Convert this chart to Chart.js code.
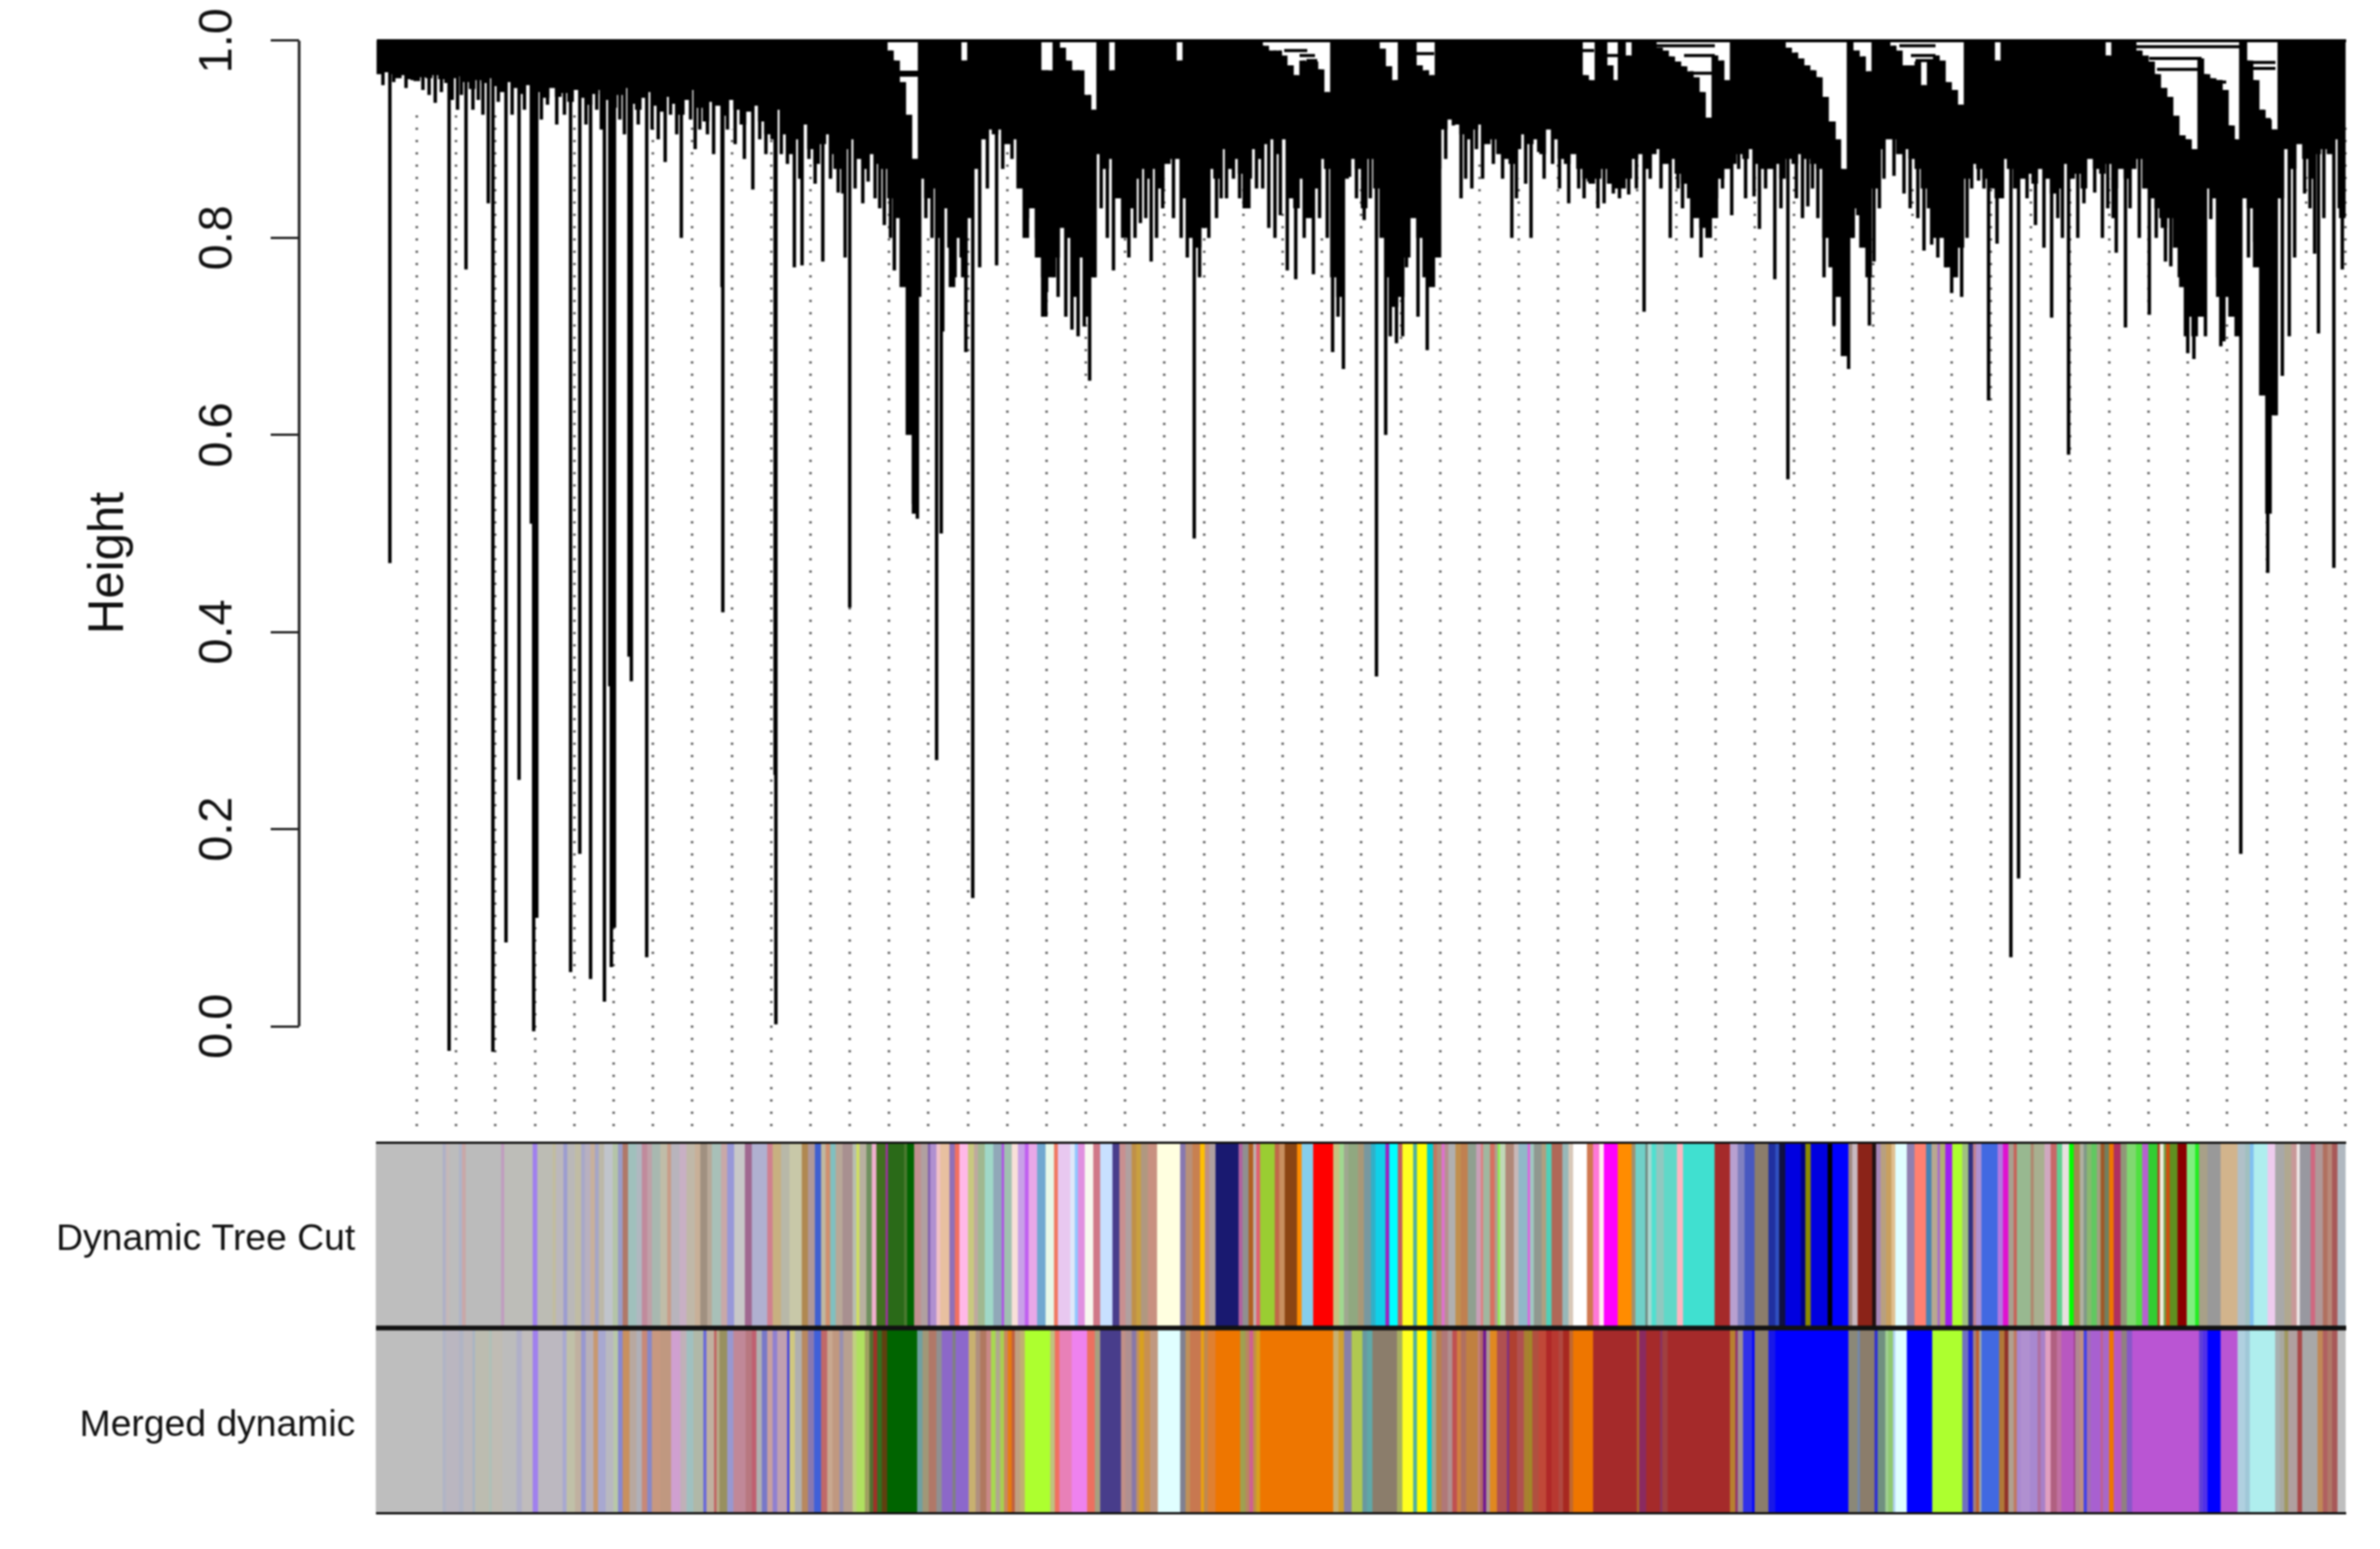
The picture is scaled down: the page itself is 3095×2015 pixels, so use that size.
<!DOCTYPE html>
<html>
<head>
<meta charset="utf-8">
<title>Gene dendrogram and module colors</title>
<script src="https://cdn.jsdelivr.net/npm/chart.js@4/dist/chart.umd.min.js"></script>
<style>
  html, body { margin: 0; background: #fff; }
  canvas { display: block; filter: blur(0.8px); }
</style>
</head>
<body>
<canvas id="treeChart" width="3095" height="2015"></canvas>
<script>
// y axis
const heightTicks = [0, 0.2, 0.4, 0.6, 0.8, 1.0];
const stripLabels = ['Dynamic Tree Cut', 'Merged dynamic'];

// leaf positions of the guide lines and the height each one starts at
const guideLeaf = [52,103,154,206,257,308,359,410,462,513,564,615,666,717,769,820,871,922,973,1024,1076,1127,1178,1229,1280,1332,1383,1434,1485,1536,1587,1639,1690,1741,1792,1843,1895,1946,1997,2048,2099,2151,2202,2253,2304,2355,2406,2458,2509,2560];
const guideTop = [.93,.93,.93,.93,.93,.92,.92,.92,.91,.90,.88,.87,.84,.80,.80,.90,.77,.74,.85,.86,.84,.85,.83,.80,.86,.76,.78,.88,.86,.88,.86,.88,.88,.85,.87,.87,.78,.80,.85,.78,.86,.86,.87,.86,.82,.70,.72,.60,.87,.92];

// lower edge of the dense part of the tree, one value per 8 leaves
const massLow = [
  .966,.968,.966,.962,.965,.961,.959,.963,.962,.965,.961,.957,.962,
  .964,.958,.951,.960,.957,.962,.954,.948,.958,.952,.946,.955,.950,
  .948,.942,.952,.943,.947,.938,.950,.942,.935,.946,.950,.940,.932,
  .945,.952,.936,.930,.942,.948,.934,.928,.943,.936,.925,.940,.950,
  .932,.918,.938,.934,.924,.940,.930,.915,.928,.934,.918,.905,
  .900,.930,.905,.885,.900,.915,.890,.875,.895,.905,.885,.870,.890,.900,.880,.870,.885,.875,.870,
  .840,.820,.750,.600,.520,
  .860,.840,.850,.800,.830,.750,.800,.760,.820,.870,.900,.910,
  .905,.910,.895,.900,.850,.800,.830,.780,.720,.760,.780,
  .810,.800,.740,.780,.720,.760,
  .885,.870,.880,.840,.800,.830,.860,.870,
  .860,.870,.850,.875,.880,.880,.840,.800,.790,.810,.870,.860,.890,.870,.880,.865,
  .830,.890,.880,.895,.900,.885,.900,
  .840,.830,.860,.820,.850,.880,.870,
  .760,.740,.860,.880,.870,.830,
  .880,.850,.800,.760,.730,.740,.780,.820,
  .800,.760,.750,.780,
  .910,.920,.915,.905,.900,.910,.915,.895,.900,.885,.880,.875,.890,.905,.895,.900,.885,.910,.900,.880,.875,.885,.870,
  .860,.855,.860,.870,.855,.850,.850,.860,
  .880,.885,.870,.885,.890,.875,.880,.865,.855,.840,.820,.810,.800,.820,.860,.870,
  .875,.885,.880,.890,.875,.870,.870,.875,.860,
  .880,.875,.885,.880,.875,.870,.800,.770,.740,.680,
  .800,.830,.790,.760,.850,.890,.900,
  .900,.885,.890,.880,.870,.850,.830,.800,.800,.770,.760,.790,
  .860,.875,.870,.860,.850,.840,
  .880,.870,.850,.860,.865,.855,.870,.860,.845,.850,.875,.860,.865,.850,.880,.870,.865,.875,.850,.870,.860,.870,
  .880,.850,.840,.830,.810,.820,.790,.750,.720,.700,
  .720,.850,.840,.760,.740,.720,.700,
  .840,.830,.770,.640,.520,.620,
  .840,.890,.870,.895,.880,.860,.885,.890,.885,.900,.820
];

// columns of the dense part that start below the top of the tree
const wedgeCol = [83,84,85,86,87,95,108,109,111,112,113,114,115,116,119,130,144,145,146,147,148,149,150,151,152,153,154,163,164,165,169,170,171,196,197,200,201,203,208,209,210,211,212,213,214,215,216,217,218,219,229,230,231,232,233,234,235,236,237,238,240,241,242,246,247,248,249,250,251,252,253,254,255,256,257,263,281,286,287,288,289,290,291,292,293,294,295,296,297,298,299,300,301,302,304,305,306,307,308];
const wedgeTop = [.99,.98,.958,.925,.88,.98,.97,.97,.993,.98,.97,.97,.945,.93,.97,.98,.995,.99,.99,.985,.975,.965,.98,.979,.979,.971,.948,.992,.974,.96,.975,.97,.965,.965,.96,.975,.96,.985,.993,.99,.984,.979,.974,.969,.963,.948,.922,.985,.98,.96,.993,.988,.982,.975,.97,.963,.943,.918,.90,.87,.99,.984,.969,.995,.99,.975,.975,.979,.955,.98,.985,.98,.958,.95,.935,.98,.985,.99,.985,.979,.966,.952,.943,.924,.904,.90,.89,.982,.966,.962,.96,.95,.914,.90,.98,.96,.93,.92,.91];

// single long branches
const spikeLeaf = [17,76,94,105,116,125,145,151,168,185,201,204,208,252,264,278,296,303,305,309,328,331,351,375,396,420,449,450,489,518,519,543,553,580,600,609,615,639,648,660,673,698,703,706,728,734,736,766,775,806,871,881,904,927,933,958,993,1007,1046,1063,1092,1105,1128,1144,1175,1184,1195,1218,1243,1257,1265,1284,1300,1312,1326,1339,1366,1373,1400,1410,1430,1476,1501,1511,1529,1563,1576,1608,1628,1648,1682,1698,1733,1762,1771,1791,1798,1818,1835,1861,1867,1895,1914,1926,1941,1947,1954,1973,1986,2012,2022,2048,2061,2074,2083,2096,2107,2125,2135,2157,2168,2178,2200,2220,2234,2251,2262,2274,2305,2326,2333,2352,2355,2363,2385,2398,2402,2424,2442,2459,2469,2487,2507,2520,2525,2545,2556];
const spikeLow = [.47,.937,-.025,.93,.768,.93,.835,-.026,.085,.25,.51,-.005,.11,.055,.175,.048,.025,.345,.06,.10,.375,.35,.07,.877,.80,.91,.75,.42,.849,.255,.002,.77,.772,.776,.846,.78,.425,.857,.84,.813,.767,.53,.515,.74,.27,.50,.705,.684,.13,.772,.745,.76,.707,.655,.76,.767,.815,.776,.80,.495,.82,.84,.83,.85,.823,.767,.758,.763,.684,.667,.862,.818,.355,.60,.693,.77,.686,.754,.914,.84,.89,.80,.80,.887,.875,.85,.857,.845,.844,.725,.80,.83,.803,.823,.87,.842,.809,.758,.555,.832,.85,.711,.667,.823,.711,.776,.83,.863,.845,.787,.793,.744,.74,.85,.858,.635,.794,.07,.15,.813,.79,.719,.58,.835,.846,.83,.785,.709,.722,.776,.771,.70,.683,.677,.819,.69,.695,.175,.796,.46,.62,.70,.845,.784,.703,.465,.768];

// short branch tips that hang just under the dense part
const tipLeaf = [8,22,38,46,60,68,84,98,110,132,138,158,176,192,214,222,234,244,272,286,292,316,322,340,358,366,382,390,408,414,430,438,456,466,478,498,506,526,534,550,562,570,590,596,606,622,632,654,668,714,722,744,752,760,784,794,814,826,836,846,858,866,886,896,912,920,942,950,966,978,986,1000,1014,1022,1036,1054,1070,1082,1098,1114,1122,1136,1152,1160,1168,1190,1206,1226,1236,1250,1274,1292,1318,1334,1354,1382,1390,1416,1424,1438,1452,1464,1482,1494,1518,1538,1550,1570,1588,1596,1616,1638,1656,1670,1692,1710,1722,1742,1750,1780,1806,1826,1846,1854,1874,1882,1904,1920,1934,1960,1994,2004,2030,2040,2056,2068,2090,2114,2146,2186,2192,2212,2244,2258,2280,2292,2314,2320,2344,2370,2378,2394,2410,2416,2434,2452,2464,2478,2494,2514,2532,2552];
const tipLow = [.955,.958,.952,.96,.95,.945,.948,.94,.945,.94,.925,.938,.925,.93,.92,.935,.915,.925,.915,.93,.91,.92,.905,.915,.91,.90,.925,.905,.92,.89,.905,.885,.91,.895,.88,.90,.885,.885,.875,.86,.88,.855,.86,.87,.845,.85,.835,.83,.80,.82,.80,.79,.76,.78,.77,.85,.87,.88,.87,.82,.80,.76,.74,.72,.70,.71,.83,.80,.84,.78,.80,.82,.80,.83,.82,.78,.76,.80,.84,.86,.84,.86,.85,.81,.80,.84,.80,.82,.80,.72,.84,.84,.70,.70,.72,.87,.88,.86,.85,.86,.875,.86,.84,.855,.86,.85,.835,.84,.83,.835,.84,.85,.86,.85,.85,.80,.78,.84,.85,.84,.85,.83,.84,.82,.82,.76,.78,.80,.84,.86,.83,.82,.78,.77,.80,.80,.85,.84,.84,.82,.80,.80,.80,.82,.83,.80,.80,.82,.76,.72,.70,.74,.80,.76,.78,.74,.72,.66,.78,.83,.82,.83];

// horizontal merges visible in the white wedges
const linkFrom = [0,679,679,1180,1200,1209,1352,1563,1595,1660,1700,1710,1980,1995,2001,2286,2305,2315,2390,2436,2440,2446];
const linkTo = [2561,705,705,1210,1220,1223,1375,1583,1615,1740,1740,1738,2027,2027,2024,2423,2373,2370,2405,2469,2469,2463];
const linkHeight = [1,.968,.965,.99,.985,.98,.987,.99,.985,.995,.985,.967,.995,.985,.98,.994,.982,.971,.958,.978,.972,.92];

// module colour strips: the leaf where each block ends, and its colour
const cutEnd = [
  86,90,95,107,111,116,162,166,203,209,229,233,243,248,258,266,271,278,284,289,
  296,307,314,320,327,338,345,352,358,369,378,383,394,403,414,421,430,436,448,456,
  465,479,488,508,515,526,537,553,561,570,578,584,590,597,606,619,624,628,637,644,
  650,662,665,686,690,699,708,717,720,728,733,745,752,758,769,777,782,791,802,813,
  816,826,834,843,848,859,870,881,886,902,908,912,921,932,941,957,966,974,982,988,
  994,1003,1015,1045,1052,1061,1071,1077,1083,1091,1121,1126,1134,1140,1144,1149,1168,1174,1181,1197,
  1203,1218,1244,1252,1258,1264,1276,1284,1293,1299,1312,1317,1328,1334,1348,1353,1366,1374,1379,1385,
  1389,1394,1403,1410,1419,1430,1436,1439,1448,1454,1458,1461,1468,1479,1485,1497,1500,1505,1515,1521,
  1528,1542,1550,1556,1574,1582,1590,1596,1614,1632,1637,1650,1653,1658,1664,1674,1691,1699,1740,1760,
  1770,1779,1792,1810,1819,1824,1832,1852,1858,1865,1887,1893,1914,1919,1926,1945,1950,1956,1963,1970,
  1975,1990,2000,2015,2022,2030,2033,2040,2049,2062,2070,2076,2080,2087,2108,2115,2122,2129,2133,2151,
  2155,2169,2177,2185,2192,2201,2207,2215,2220,2224,2230,2237,2242,2247,2253,2259,2268,2276,2288,2296,
  2304,2316,2319,2324,2327,2332,2342,2354,2365,2370,2381,2398,2420,2430,2436,2441,2459,2469,2481,2490,
  2497,2501,2515,2521,2531,2537,2543,2550,2560
];
const cutColor = [
  '#bebebe','#aeb0c6','#c4b8b8','#bcbcbc','#aeb4c8','#c8a8a8','#bbbbbb','#c09cc0','#bdbdb8','#a080ee','#bcbcb4','#c2bc9e','#bcb8bc','#9c9cd0','#bab8b8','#c0bca4','#a8a8c8','#b8b0c0','#c8b09c','#a6a6c6',
  '#bcb8a8','#c0c4cc','#b4c4a8','#9a9cc8','#b07868','#a0c0bc','#b0b8c0','#c08a9c','#c0a0a8','#a8b8b0','#c0bca8','#c89c88','#b8b4bc','#c8b0c4','#c0b8a8','#c8b098','#a09080','#b8a898','#a8c0b8','#c8a8a8',
  '#9898d8','#c8c8c8','#a06890','#b0b0d0','#d08090','#c8b080','#b8b8a8','#c8c8a8','#b08850','#b09898','#4060d0','#c0b8a0','#d09070','#80c0c0','#b8a898','#a89090','#b8c0b0','#d0e060','#b8b0a0','#709060',
  '#f0b0d0','#407020','#a030a0','#2a6a18','#4a7a30','#006400','#c09090','#b0a0a0','#8060b0','#b090d0','#f0c0c8','#e8c0a0','#9070b8','#f07060','#ffb8e8','#c8c880','#c0a8a0','#a0b890','#a0d8c8','#90a8b8',
  '#b050e8','#a0c0b0','#f8e0d8','#c8a0e8','#c060f0','#e8a8e8','#70a8d0','#e8f8e8','#f07860','#e8c8f0','#e0e8f8','#90c8ff','#e090e0','#f8f8f0','#d07888','#c8e0ff','#483d8b','#c89090','#b0a0a0','#c09048',
  '#c8a040','#b09880','#c89080','#ffffe0','#8878b0','#b89078','#c88050','#ffc000','#c09080','#b0a0a0','#191970','#b060a0','#909090','#b06020','#c0b0b0','#e06070','#9acd32','#c06848','#c89060','#8b4513',
  '#ff8c00','#87ceeb','#ff0000','#c8c080','#a0d890','#a0a890','#90a880','#a89878','#7898a0','#30b0c8','#10d0e8','#a020c0','#00ffff','#c06060','#ffff20','#50b0a0','#ffff00','#00ced1','#c07860','#b09078',
  '#e070d0','#b89090','#b0b0b0','#c09050','#c08050','#90a090','#c8a0b8','#e08080','#a0b8a0','#d87060','#b0a090','#90f050','#c0d8b8','#b08878','#c8b8b8','#90b8c8','#e060e0','#a0c8c0','#909890','#b0a080',
  '#50d0b8','#b06858','#98b8b8','#d8c8b8','#ffffff','#d07850','#ff78d8','#fff0f0','#ff00ff','#ff8c00','#a09070','#70d0c8','#708880','#a8d8d0','#50e0d0','#90c8c0','#60d8c8','#ffb6c1','#40e0d0','#a52a2a',
  '#b8a0d0','#8080c0','#4858c0','#8b7d6b','#2030a0','#3050c0','#101040','#0000e0','#000080','#8b8b00','#0000e0','#000000','#0000ff','#a08880','#c8b8c0','#8b2318','#201010','#a888b8','#b8a080','#c8a060',
  '#e0c090','#e0ffff','#9080b0','#ff8070','#4682b4','#b8a890','#a868d0','#b0b070','#a020f0','#adff2f','#a0c080','#303080','#c08090','#b090d0','#4169e1','#b078e0','#e010d0','#a8a090','#c86058','#98b890',
  '#b08870','#a8b090','#d0a8c0','#c86868','#60d090','#e8e0e0','#00ff00','#a08850','#b0b0a0','#809888','#88b870','#60c860','#a0a080','#a05828','#708060','#ee7600','#b03060','#909878','#80d870','#50e040',
  '#b860d0','#32cd32','#b04020','#f0f0e0','#70a048','#cd4f10','#609020','#8b0000','#80ee80','#20ee20','#a8a088','#999999','#d2b48c','#b0c0c8','#a0c0c0','#80c0f0','#afeeee','#eeccee','#a8a8a8','#b0a890',
  '#c89898','#f0e8e8','#9898a0','#d06880','#b09898','#b07060','#b88878','#a85858','#b0b8c0'
];
const mergedEnd = [
  86,90,107,113,125,128,146,150,164,182,189,203,210,242,247,258,266,272,282,288,
  298,308,314,320,329,338,345,352,358,369,383,395,403,412,425,429,439,442,446,456,
  464,480,488,494,501,508,515,521,534,537,544,553,561,569,578,586,593,602,607,619,
  624,635,641,646,651,657,664,703,710,718,728,735,749,753,770,779,785,793,799,805,
  811,816,821,826,830,837,843,876,882,888,904,924,934,941,968,974,982,988,992,998,
  1006,1016,1045,1052,1058,1072,1076,1081,1091,1123,1130,1135,1140,1144,1149,1244,1251,1258,1268,1282,
  1288,1295,1327,1334,1348,1353,1366,1372,1378,1385,1393,1399,1405,1410,1417,1432,1435,1439,1443,1448,
  1457,1470,1473,1483,1492,1499,1503,1511,1521,1528,1537,1543,1551,1556,1582,1639,1642,1651,1669,1672,
  1679,1760,1767,1770,1777,1789,1792,1810,1819,1914,1926,1929,1948,1952,1962,1966,1972,1975,1990,2023,
  2062,2070,2076,2080,2084,2087,2110,2117,2122,2129,2133,2138,2150,2160,2164,2170,2177,2185,2191,2207,
  2209,2215,2220,2224,2229,2242,2245,2253,2259,2269,2276,2283,2370,2375,2381,2398,2420,2430,2436,2469,
  2475,2481,2486,2498,2504,2524,2531,2537,2543,2550,2560
];
const mergedColor = [
  '#bebebe','#b0b4c6','#bab6c0','#b0b4c4','#bcb8bc','#a8b4c4','#bcbcb0','#b0c0b8','#c0bcb4','#bcbcbc','#b0b0c8','#c0bcbc','#a080ee','#bcb8c0','#a8a8d0','#c0c0a8','#c0b0a0','#9898d0','#b8b0b8','#c89870',
  '#a8a8d0','#b8b8c0','#b8c8a8','#8888d0','#c89060','#b8a8a0','#b0b0b8','#c88878','#8888c8','#c89880','#c09880','#d0a0d0','#c0b0b8','#a0c0c0','#b0b8a8','#6868d8','#c0b0a0','#c06060','#b8a888','#989060',
  '#9898d0','#c08898','#b87880','#c06070','#b0b0b0','#7878c8','#c8a0a0','#9080d0','#c0a0b0','#4040e0','#d0c880','#b0b0b0','#b88860','#8878b0','#4060d8','#c06868','#c8a890','#c09880','#9890b0','#b8a090',
  '#c0d080','#b0e060','#a0a060','#507030','#a03028','#307020','#604010','#006400','#70a0a0','#a09878','#b07868','#909090','#8c68c8','#808080','#8c68cc','#c8b070','#b09080','#b07860','#c88888','#a8d850',
  '#b0a890','#a8d050','#c88860','#e87c10','#c06040','#c0a080','#c0b070','#adff2f','#c0c080','#f07060','#e880b8','#ee82ee','#ec7060','#a8a080','#483d8b','#c09088','#b09090','#8878a8','#c09060','#d8a020',
  '#c89050','#c09880','#e0ffff','#808090','#c09058','#c87850','#e8a010','#c08850','#e08030','#ee7600','#a0a050','#b88860','#d06090','#c09048','#d8a020','#ee7600','#c8b070','#d0a030','#8880a8','#b0c850',
  '#6898a0','#60a8a8','#8b7d6b','#a8b060','#ffff20','#50b0a0','#ffff00','#00ced1','#a0a890','#b88050','#b07878','#b09090','#c05050','#d08040','#b07060','#c08040','#c08080','#b06868','#701890','#b09890',
  '#e08820','#b05050','#803080','#b04030','#b05050','#a88030','#a08828','#b05040','#c04838','#b02828','#b83830','#b04840','#a82820','#c06830','#ee7600','#a52a2a','#b06828','#8a2a60','#a52a2a','#8a3060',
  '#a04040','#a52a2a','#b88030','#903070','#a09090','#3030e8','#0000ff','#8b7d6b','#1818e8','#0000ff','#8b8878','#7088b0','#8b7d6b','#3030d0','#709080','#a0d090','#90c870','#b0d0f0','#e0ffff','#0000ff',
  '#adff2f','#7070c0','#2020e0','#a08080','#c06030','#a0a8a8','#4169e1','#b07838','#903028','#b0a090','#c07860','#a888d0','#b090d0','#a888d0','#b070a0','#a880c8','#e0a0c0','#b06080','#c070a0','#b858c0',
  '#a04090','#b08890','#c09080','#4040e8','#a070b0','#a860d0','#c06090','#a868c8','#ee7600','#b858c0','#908080','#8858c8','#ba55d3','#6040d8','#5030e8','#0000ff','#ba55d3','#b0d0e0','#a0c8d8','#afeeee',
  '#a8b0b0','#a8a8a0','#a09860','#b0a0a0','#a84848','#a8a8a8','#c08858','#b06060','#b07868','#a85858','#bebebe'
];

function columnTop(leaf) {
  const k = wedgeCol.indexOf(Math.floor(leaf / 8));
  return k < 0 ? 1 : wedgeTop[k];
}

const gap = { x: null, y: null };

const massPoints = massLow.flatMap((low, i) => [
  { x: i * 8 + 4, y: columnTop(i * 8 + 4) }, { x: i * 8 + 4, y: low }, gap
]);
const branchPoints = (leaves, lows) => leaves.flatMap((leaf, i) => [
  { x: leaf, y: columnTop(leaf) }, { x: leaf, y: lows[i] }, gap
]);
const linkPoints = linkFrom.flatMap((from, i) => [
  { x: from, y: linkHeight[i] }, { x: linkTo[i], y: linkHeight[i] }, gap
]);
const guidePoints = guideLeaf.flatMap((leaf, i) => [
  { x: leaf, y: -0.1014 }, { x: leaf, y: guideTop[i] }, gap
]);

function stripBars(label, ends) {
  return ends.map((end, i) => ({ y: label, x: [i ? ends[i - 1] : -1, end] }));
}

// same width for the stacked y scales, no extra room for the rotated labels
function fitLeft(scale) {
  scale.width = 389;
  scale.paddingTop = 0;
  scale.paddingBottom = 0;
}

const lineStyle = { type: 'line', yAxisID: 'y', xAxisID: 'x', pointRadius: 0, borderCapStyle: 'butt', tension: 0, spanGaps: false, clip: false, fill: false };
const barStyle = { type: 'bar', indexAxis: 'y', yAxisID: 'ys', xAxisID: 'x', grouped: false, barPercentage: 1, categoryPercentage: 1, borderWidth: 0 };

new Chart(document.getElementById('treeChart'), {
  type: 'line',
  data: {
    datasets: [
      { ...lineStyle, data: guidePoints, borderColor: '#555', borderWidth: 3, borderDash: [3, 13], order: 6 },
      { ...barStyle, data: stripBars(stripLabels[0], cutEnd), backgroundColor: cutColor, order: 5 },
      { ...barStyle, data: stripBars(stripLabels[1], mergedEnd), backgroundColor: mergedColor, order: 5 },
      { ...lineStyle, data: massPoints, borderColor: '#000', borderWidth: 8.6, order: 3 },
      { ...lineStyle, data: branchPoints(tipLeaf, tipLow), borderColor: '#000', borderWidth: 4.5, order: 2 },
      { ...lineStyle, data: branchPoints(spikeLeaf, spikeLow), borderColor: '#000', borderWidth: 4.5, order: 2 },
      { ...lineStyle, data: linkPoints, borderColor: '#000', borderWidth: 4, order: 2 },
      { ...lineStyle, data: [{ x: -101, y: 0 }, { x: -101, y: 1 }], borderColor: '#222', borderWidth: 3.5, order: 1 },
      { ...barStyle, data: stripLabels.map(l => ({ y: l, x: [-1, 2561] })), backgroundColor: 'transparent', borderColor: '#111', borderWidth: { top: 6, bottom: 6, left: 0, right: 0 }, borderSkipped: false, barPercentage: 1.0247, order: 0 }
    ]
  },
  options: {
    responsive: false,
    animation: false,
    events: [],
    layout: { padding: { left: 0, right: 0, top: 0, bottom: 45 } },
    plugins: { legend: { display: false }, title: { display: false }, tooltip: { enabled: false } },
    scales: {
      x: { type: 'linear', min: -101, max: 2605, display: false },
      y: {
        type: 'linear', position: 'left', stack: 'left', stackWeight: 1465, weight: 2,
        min: -0.1014, max: 1.04134,
        afterBuildTicks: scale => { scale.ticks = heightTicks.map(v => ({ value: v })); },
        afterFit: fitLeft,
        border: { display: false },
        grid: { drawOnChartArea: false, drawTicks: true, tickLength: 37, tickWidth: 3, tickColor: '#222' },
        ticks: {
          autoSkip: false, minRotation: 90, maxRotation: 90, crossAlign: 'center', padding: 25, color: '#111',
          font: { family: '"Liberation Sans"', size: 61 },
          callback: v => v.toFixed(1)
        },
        title: { display: true, text: 'Height', color: '#111', font: { family: '"Liberation Sans"', size: 64, lineHeight: 1 }, padding: { top: 110, bottom: 0 } }
      },
      yGap: {
        type: 'linear', position: 'left', stack: 'left', stackWeight: 20, weight: 1,
        afterFit: fitLeft,
        border: { display: false }, grid: { display: false }, ticks: { display: false }
      },
      ys: {
        type: 'category', position: 'left', stack: 'left', stackWeight: 485, weight: 0, labels: stripLabels,
        afterFit: fitLeft,
        border: { display: false },
        grid: { display: false },
        ticks: {
          autoSkip: false, mirror: true, crossAlign: 'far', padding: -316, labelOffset: 6, color: '#111',
          font: { family: '"Liberation Sans"', size: 48.5 }
        }
      }
    }
  }
});
</script>
</body>
</html>
